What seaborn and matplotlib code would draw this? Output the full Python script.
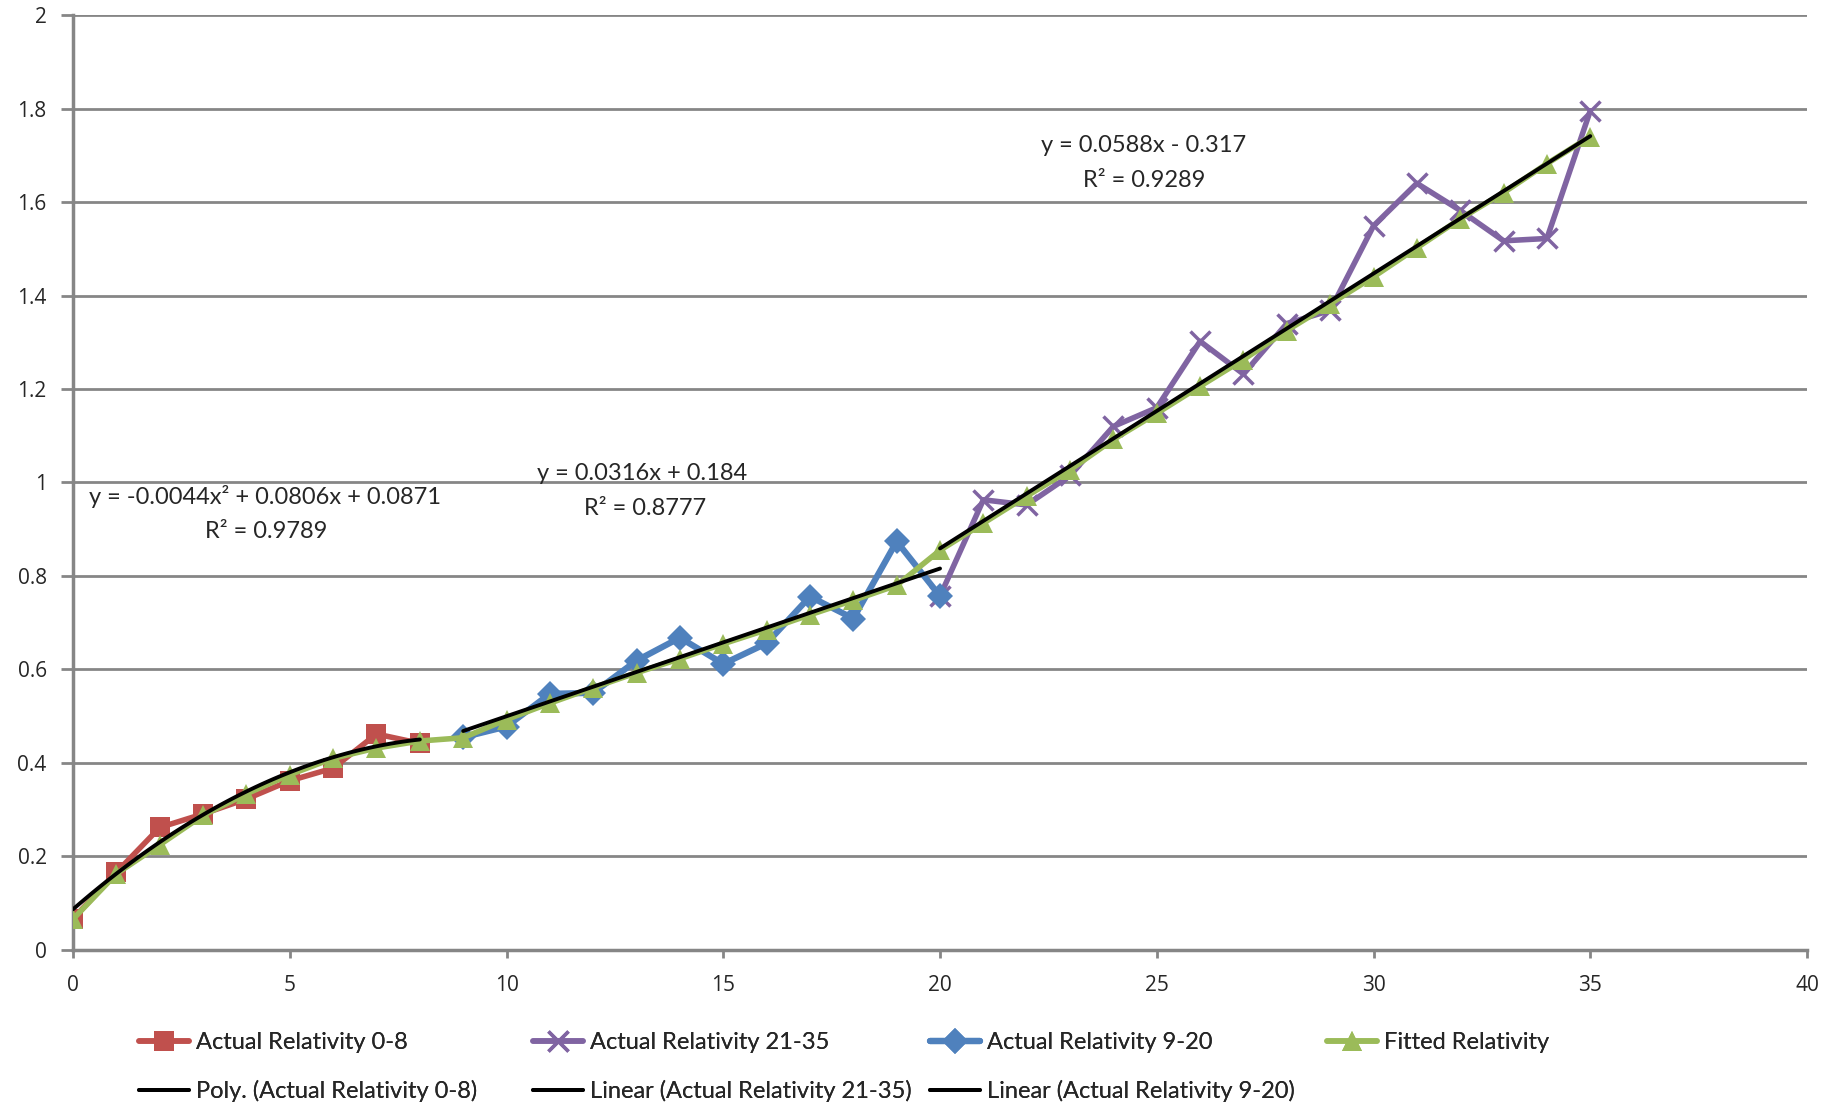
import numpy as np
import pandas as pd
import matplotlib
matplotlib.use("Agg")
import matplotlib.pyplot as plt
from matplotlib.lines import Line2D
import seaborn as sns

# data
x_red = list(range(0, 9))
y_red = [0.067, 0.166, 0.262, 0.291, 0.323, 0.362, 0.389, 0.462, 0.442]

x_purple = list(range(20, 36))
y_purple = [0.757, 0.963, 0.952, 1.015, 1.120, 1.160, 1.302, 1.232, 1.340,
            1.368, 1.549, 1.640, 1.582, 1.517, 1.522, 1.795]

x_blue = list(range(9, 21))
y_blue = [0.455, 0.478, 0.548, 0.550, 0.619, 0.668, 0.612, 0.656, 0.756,
          0.709, 0.874, 0.757]

x_green = list(range(0, 36))
y_green = [0.066, 0.163, 0.225, 0.288, 0.334, 0.375, 0.410, 0.432, 0.447,
           0.454, 0.493, 0.528, 0.561, 0.593, 0.623, 0.655, 0.685, 0.717,
           0.748, 0.780, 0.855, 0.913, 0.971, 1.027, 1.092, 1.148, 1.206,
           1.263, 1.325, 1.382, 1.440, 1.502, 1.564, 1.620, 1.682, 1.740]

# trendline coefficients as printed on the chart
poly_coef = [-0.0044, 0.0806, 0.0871]
lin_920 = [0.0316, 0.184]
lin_2135 = [0.0588, -0.317]

RED, PURPLE, BLUE, GREEN = "#C0504D", "#8064A2", "#4F81BD", "#9BBB59"
GRID = "#868686"

sns.set_theme(style="white")
plt.rcParams["font.family"] = ["Open Sans", "DejaVu Sans"]

fig, ax = plt.subplots(figsize=(18.45, 11.05), dpi=100)
fig.subplots_adjust(left=0.0396, right=0.9794, top=0.9864, bottom=0.1403)

ms = 15
sns.lineplot(x=x_red, y=y_red, color=RED, marker="s", markersize=ms,
             markeredgewidth=0, linewidth=4, ax=ax, zorder=3)
sns.lineplot(x=x_purple, y=y_purple, color=PURPLE, marker="x", markersize=ms,
             markeredgewidth=2.5, markeredgecolor=PURPLE, linewidth=4,
             ax=ax, zorder=3)
sns.lineplot(x=x_blue, y=y_blue, color=BLUE, marker="D", markersize=13,
             markeredgewidth=0, linewidth=4.5, ax=ax, zorder=3)
sns.lineplot(x=x_green, y=y_green, color=GREEN, marker="^", markersize=ms,
             markeredgewidth=0, linewidth=4, ax=ax, zorder=3)

# trendlines
xp = np.linspace(0, 8, 60)
ax.plot(xp, np.polyval(poly_coef, xp), color="black", lw=2.8, zorder=4)
xl = np.array([9, 20])
ax.plot(xl, np.polyval(lin_920, xl), color="black", lw=2.8, zorder=4)
xl = np.array([20, 35])
ax.plot(xl, np.polyval(lin_2135, xl), color="black", lw=2.8, zorder=4)

ann_font = dict(family="Lato", fontsize=17, ha="center", va="center")
ax.text(4.42, 0.97, "y = -0.0044x² + 0.0806x + 0.0871", **ann_font)
ax.text(4.45, 0.895, "R² = 0.9789", **ann_font)
ax.text(13.13, 1.02, "y = 0.0316x + 0.184", **ann_font)
ax.text(13.19, 0.945, "R² = 0.8777", **ann_font)
ax.text(24.69, 1.72, "y = 0.0588x - 0.317", **ann_font)
ax.text(24.72, 1.645, "R² = 0.9289", **ann_font)

ax.set_xlim(0, 40)
ax.set_ylim(0, 2)
ax.set_xticks(range(0, 41, 5))
ax.set_yticks(np.arange(0, 2.01, 0.2))
ax.set_yticklabels(["0", "0.2", "0.4", "0.6", "0.8", "1", "1.2", "1.4",
                    "1.6", "1.8", "2"])
ax.grid(axis="y", color=GRID, lw=2)
ax.grid(axis="x", visible=False)
for s in ["top", "right"]:
    ax.spines[s].set_visible(False)
for s in ["left", "bottom"]:
    ax.spines[s].set_color(GRID)
    ax.spines[s].set_linewidth(2.5)
ax.tick_params(axis="y", direction="out", length=9, width=2,
               color=GRID, labelsize=15, pad=10, left=True)
ax.tick_params(axis="x", direction="out", length=6, width=2,
               color=GRID, labelsize=15, pad=12, bottom=True)
ax.set_xlabel("")
ax.set_ylabel("")

# legend, Excel style: equal width columns, two rows
h_red = Line2D([], [], color=RED, marker="s", markersize=ms, mew=0, lw=4)
h_pur = Line2D([], [], color=PURPLE, marker="x", markersize=ms, mew=2.5, lw=4)
h_blu = Line2D([], [], color=BLUE, marker="D", markersize=13, mew=0, lw=4.5)
h_grn = Line2D([], [], color=GREEN, marker="^", markersize=ms, mew=0, lw=4)
h_trend = Line2D([], [], color="black", lw=2.8)
columns = [
    [(h_red, "Actual Relativity 0-8"), (h_trend, "Poly. (Actual Relativity 0-8)")],
    [(h_pur, "Actual Relativity 21-35"), (h_trend, "Linear (Actual Relativity 21-35)")],
    [(h_blu, "Actual Relativity 9-20"), (h_trend, "Linear (Actual Relativity 9-20)")],
    [(h_grn, "Fitted Relativity")],
]
col_x = [139, 533, 930, 1327]
for cx, entries in zip(col_x, columns):
    leg = fig.legend([e[0] for e in entries], [e[1] for e in entries],
                     loc="upper left", bbox_to_anchor=(cx / 1845, 1 - 1032 / 1105),
                     frameon=False, handlelength=2.1, handletextpad=0.3,
                     borderpad=0, borderaxespad=0, labelspacing=1.15,
                     prop={"family": "Lato", "size": 17})
    fig.add_artist(leg)

fig.savefig("out.png", dpi=100)
